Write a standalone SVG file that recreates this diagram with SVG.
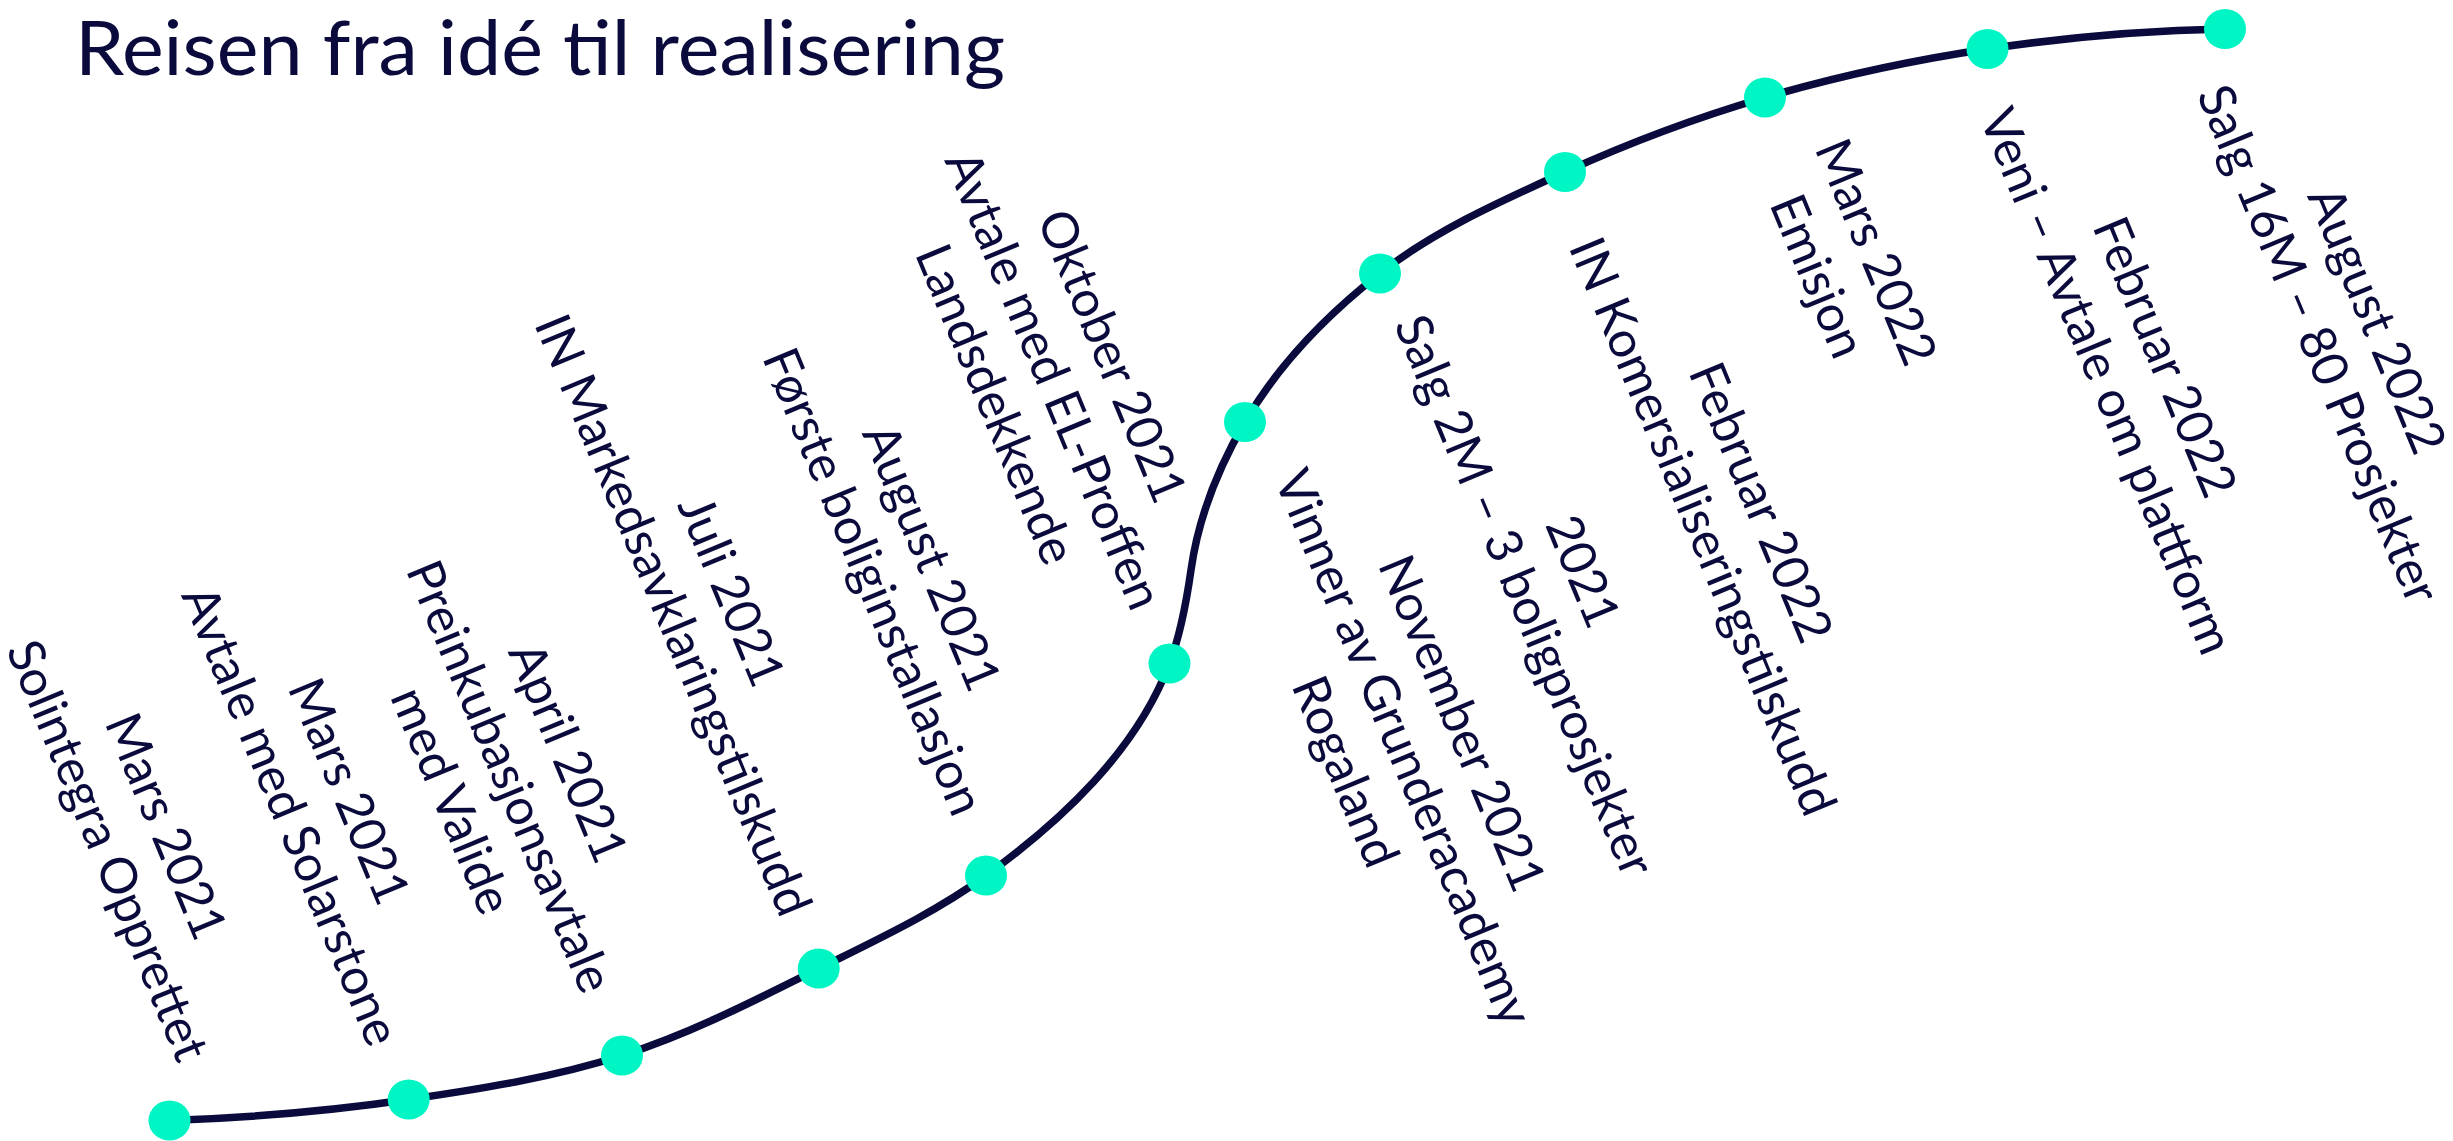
<svg xmlns="http://www.w3.org/2000/svg" width="2453" height="1141" viewBox="0 0 2453 1141">
<style>
.bg{fill:#ffffff}
.title{font-family:Lato,"Open Sans","Liberation Sans",sans-serif;font-size:76px;fill:#0a0a3c}
.lbl{font-family:Lato,"Open Sans","Liberation Sans",sans-serif;font-size:50px;font-weight:400;fill:#0a0a3c;text-anchor:middle}
.dot{fill:#00f5c4}
.track{fill:none;stroke:#0a0a3c;stroke-width:7.5;stroke-linecap:round}
</style>
<rect class="bg" x="0" y="0" width="2453" height="1141"/>
<text id="title" class="title" x="75" y="75" textLength="930" lengthAdjust="spacingAndGlyphs">Reisen fra idé til realisering</text>
<g id="connectors">
<path class="track" d="M169.5,1120.5 C249.5,1117.7 329.5,1111.1 408.7,1099.5 C480.5,1089 552.8,1077.6 622,1055.5 C690.3,1033.7 754.5,1000.6 818.7,968.6 C875.8,940.1 934.4,913.1 986,875.6 C1061.6,820.6 1136.4,751 1169.5,663.5 C1180.8,633.6 1186.5,601.7 1191,570 C1198.3,518 1218.5,467.3 1245,422 C1278.8,364.2 1327.3,314.6 1380,273.4 C1435.4,230.1 1501,201.2 1565,172 C1629.7,142.5 1696.8,117.5 1765,97.5 C1837.8,76.2 1912.4,60.2 1987.5,49 C2066,37.3 2145.6,30.4 2225,29"/>
</g>
<g id="node1"><ellipse class="dot" cx="169.5" cy="1120.5" rx="21" ry="20"/>
<text class="lbl" transform="translate(150,833) rotate(67.5)"><tspan x="0" dy="0">Mars 2021</tspan><tspan x="0" dy="63">Solintegra Opprettet</tspan></text></g>
<g id="node2"><ellipse class="dot" cx="408.7" cy="1099.5" rx="21" ry="20"/>
<text class="lbl" transform="translate(333,798) rotate(67.5)"><tspan x="0" dy="0">Mars 2021</tspan><tspan x="0" dy="63">Avtale med Solarstone</tspan></text></g>
<g id="node3"><ellipse class="dot" cx="622" cy="1055.5" rx="21" ry="20"/>
<text class="lbl" transform="translate(552,759) rotate(67.5)"><tspan x="0" dy="0">April 2021</tspan><tspan x="0" dy="63">Preinkubasjonsavtale</tspan><tspan x="0" dy="63">med Valide</tspan></text></g>
<g id="node4"><ellipse class="dot" cx="818.7" cy="968.6" rx="21" ry="20"/>
<text class="lbl" transform="translate(715.5,597.6) rotate(67.5)"><tspan x="0" dy="0">Juli 2021</tspan><tspan x="0" dy="63">IN Markedsavklaringstilskudd</tspan></text></g>
<g id="node5"><ellipse class="dot" cx="986" cy="875.6" rx="21" ry="20"/>
<text class="lbl" transform="translate(915.7,564) rotate(67.5)"><tspan x="0" dy="0">August 2021</tspan><tspan x="0" dy="63">Første boliginstallasjon</tspan></text></g>
<g id="node6"><ellipse class="dot" cx="1169.5" cy="663.5" rx="21" ry="20"/>
<text class="lbl" transform="translate(1096,362.6) rotate(67.5)"><tspan x="0" dy="0">Oktober 2021</tspan><tspan x="0" dy="63">Avtale med EL-Proffen</tspan><tspan x="0" dy="63">Landsdekkende</tspan></text></g>
<g id="node7"><ellipse class="dot" cx="1245" cy="422" rx="21" ry="20"/>
<text class="lbl" transform="translate(1446,730) rotate(67.5)"><tspan x="0" dy="0">November 2021</tspan><tspan x="0" dy="63">Vinner av Grunderacademy</tspan><tspan x="0" dy="63">Rogaland</tspan></text></g>
<g id="node8"><ellipse class="dot" cx="1380" cy="273.4" rx="21" ry="20"/>
<text class="lbl" transform="translate(1567,578) rotate(67.5)"><tspan x="0" dy="0">2021</tspan><tspan x="0" dy="63">Salg 2M – 3 boligprosjekter</tspan></text></g>
<g id="node9"><ellipse class="dot" cx="1565" cy="172" rx="21" ry="20"/>
<text class="lbl" transform="translate(1745,509) rotate(67.5)"><tspan x="0" dy="0">Februar 2022</tspan><tspan x="0" dy="63">IN Komersialiseringstilskudd</tspan></text></g>
<g id="node10"><ellipse class="dot" cx="1765" cy="97.5" rx="21" ry="20"/>
<text class="lbl" transform="translate(1860,258.6) rotate(67.5)"><tspan x="0" dy="0">Mars 2022</tspan><tspan x="0" dy="63">Emisjon</tspan></text></g>
<g id="node11"><ellipse class="dot" cx="1987.5" cy="49" rx="21" ry="20"/>
<text class="lbl" transform="translate(2149,363.6) rotate(67.5)"><tspan x="0" dy="0">Februar 2022</tspan><tspan x="0" dy="63">Veni – Avtale om plattform</tspan></text></g>
<g id="node12"><ellipse class="dot" cx="2225" cy="29" rx="21" ry="20"/>
<text class="lbl" transform="translate(2361,326.6) rotate(67.5)"><tspan x="0" dy="0">August 2022</tspan><tspan x="0" dy="63">Salg 16M – 80 Prosjekter</tspan></text></g>
</svg>
